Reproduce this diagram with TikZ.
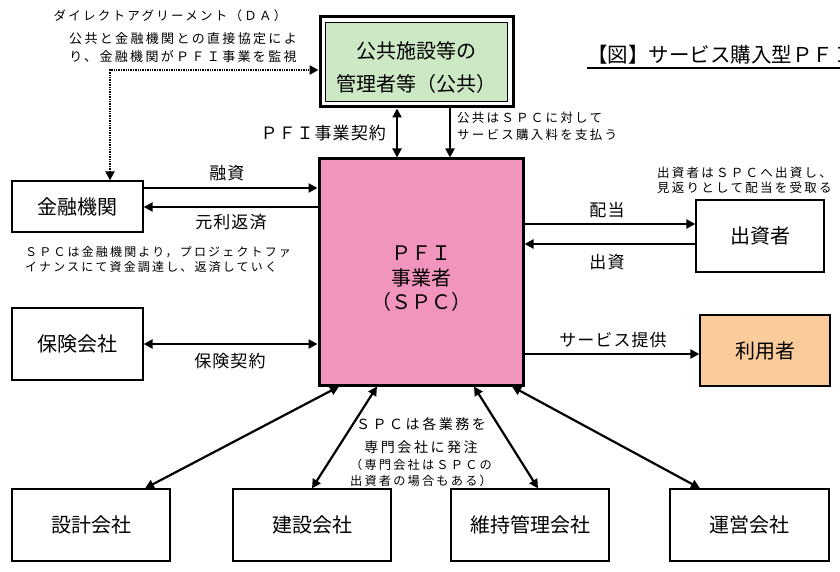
\documentclass[tikz,border=0pt]{standalone}
\usepackage{fontspec}
\setmainfont{Noto Sans CJK JP}
\newfontfamily\jpsp[LetterSpace=18]{Noto Sans CJK JP}
\newfontfamily\jplab[LetterSpace=6]{Noto Sans CJK JP}
\usetikzlibrary{arrows.meta,calc}
\pgfdeclarelayer{bg}
\pgfsetlayers{bg,main}
\definecolor{pubgreen}{RGB}{204,232,196}
\definecolor{spcpink}{RGB}{241,148,190}
\definecolor{usrorange}{RGB}{250,203,155}
\definecolor{shadowc}{RGB}{110,110,110}
\newcommand{\myfs}[2]{\fontsize{#1}{#2}\selectfont}
\begin{document}
\begin{tikzpicture}[x=1pt,y=-1pt,
  box/.style={draw, line width=1.3pt, fill=white, inner sep=0pt, font=\myfs{20}{24}},
  arr/.style={line width=2.2pt, -{Triangle[length=9pt,width=9pt]}},
  darr/.style={line width=2.2pt, {Triangle[length=9pt,width=9pt]}-{Triangle[length=9pt,width=9pt]}},
  dotarr/.style={line width=2.5pt, dash pattern=on 1.3pt off 1.1pt, {Triangle[length=9pt,width=9pt]}-{Triangle[length=9pt,width=9pt]}},
  lab/.style={font=\jplab\myfs{17}{20}, inner sep=0pt},
  note/.style={font=\jpsp\myfs{12.5}{16.5}, inner sep=0pt, align=left}]
\useasboundingbox[fill=white] (0,0) rectangle (840,572);

% boxes
\node[box, minimum width=131pt, minimum height=51pt] (fin) at (77.5,206.5) {金融機関};
\node[box, minimum width=131pt, minimum height=72pt] (ins) at (77.5,344) {保険会社};
\node[box, minimum width=128pt, minimum height=72pt] (inv) at (760,236) {出資者};
\node[box, fill=usrorange, minimum width=130pt, minimum height=71pt] (usr) at (765,350.5) {利用者};
\node[box, minimum width=158pt, minimum height=72pt] (d1) at (91,525) {設計会社};
\node[box, minimum width=158pt, minimum height=72pt] (d2) at (312,525) {建設会社};
\node[box, minimum width=158pt, minimum height=72pt] (d3) at (530,525) {維持管理会社};
\node[box, minimum width=159pt, minimum height=72pt] (d4) at (749.5,525) {運営会社};

\node[draw, line width=3pt, fill=spcpink, minimum width=204pt, minimum height=226pt] (spc) at (421,272) {};
\node[font=\myfs{20}{24.5}, align=center, inner sep=0pt] (spct) at (421,279) {ＰＦＩ\\事業者\\（ＳＰＣ）};

\node[draw, line width=3pt, fill=white, minimum width=193pt, minimum height=90pt] (pubo) at (416.5,62) {};
\node[draw, line width=1pt, fill=pubgreen, minimum width=182pt, minimum height=79pt] (pub) at (416.5,62) {};
\node[font=\myfs{20}{33}, align=center, inner sep=0pt] (pubt) at (416.5,67.5) {公共施設等の\\管理者等（公共）};

% shadows
\begin{pgfonlayer}{bg}
\foreach \n in {pubo,spc,fin,ins,inv,usr,d1,d2,d3,d4}
  \fill[shadowc] ($(\n.south west)+(4,4)$) rectangle ($(\n.north east)+(4,4)$);
\end{pgfonlayer}

% title
\node[anchor=west, inner sep=0pt, font=\myfs{20.5}{24}] (title) at (587,55) {【図】サービス購入型ＰＦＩ};
\draw[line width=1.5pt] (title.west |- 0,68) -- (840,68);

% connectors
\draw[darr] (pubo.south -| 397,0) -- (spc.north -| 397,0);
\draw[arr] (pubo.south -| 450,0) -- (spc.north -| 450,0);
\draw[arr] (fin.east |- 0,188) -- (spc.west |- 0,188);
\draw[arr] (spc.west |- 0,207) -- (fin.east |- 0,207);
\draw[darr] (ins.east) -- (spc.west |- ins.east);
\draw[arr] (spc.east |- 0,224) -- (inv.west |- 0,224);
\draw[arr] (inv.west |- 0,244) -- (spc.east |- 0,244);
\draw[arr] (spc.east |- 0,354) -- (usr.west |- 0,354);
\draw[darr] (d1.north -| 145,0) -- (spc.south -| 339,0);
\draw[darr] (d2.north -| 312,0) -- (spc.south -| 377,0);
\draw[darr] (d3.north -| 538,0) -- (spc.south -| 474,0);
\draw[darr] (d4.north -| 700,0) -- (spc.south -| 512,0);
\draw[dotarr] (fin.north -| 110,0) |- (pubo.west |- 0,70);

% labels
\node[lab] (lfund) at (227,173) {融資};
\node[lab] (lrepay) at (231,222) {元利返済};
\node[lab] (lins) at (230,361) {保険契約};
\node[lab, anchor=east] (lcontract) at (386,133) {ＰＦＩ事業契約};
\node[lab] (ldiv) at (607,210) {配当};
\node[lab] (linv) at (607,262) {出資};
\node[lab] (lsrv) at (613,340) {サービス提供};

% notes
\node[note, anchor=west] (npub) at (457,126.5) {公共はＳＰＣに対して\\サービス購入料を支払う};
\node[note, anchor=west, font=\jpsp\myfs{12.5}{15.5}] (ninv) at (657,180.5) {出資者はＳＰＣへ出資し、\\見返りとして配当を受取る};
\node[note, anchor=west, font=\jpsp\myfs{12}{15.5}] (nfin) at (25,259.5) {ＳＰＣは金融機関より，プロジェクトファ\\イナンスにて資金調達し、返済していく};
\node[note, align=center] (nda1) at (170,16) {ダイレクトアグリーメント（ＤＡ）};
\node[note, align=center, font=\jpsp\myfs{13}{18}] (nda2) at (183,48) {公共と金融機関との直接協定によ\\り、金融機関がＰＦＩ事業を監視};
\node[align=center, inner sep=0pt, font=\jpsp\myfs{14}{23}] (nmid1) at (421,435.5) {ＳＰＣは各業務を\\専門会社に発注};
\node[align=center, inner sep=0pt, font=\jpsp\myfs{12.2}{16}] (nmid2) at (421,473) {（専門会社はＳＰＣの\\出資者の場合もある）};
\end{tikzpicture}
\end{document}
